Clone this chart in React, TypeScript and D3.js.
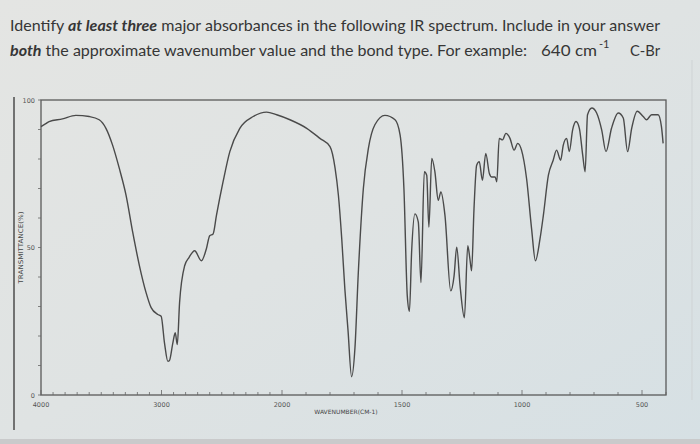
import React from "react";
import * as d3 from "d3";

const wavenumbers = [
  4000, 3960, 3933, 3822, 3711, 3600, 3517, 3461, 3406, 3350, 3294, 3239, 3183, 3128, 3086, 3031, 3003,
  2975, 2947, 2935, 2906, 2886, 2869, 2850, 2808, 2772, 2725, 2669, 2628, 2600, 2572, 2544, 2489, 2433,
  2350, 2239, 2128, 2044, 1967, 1897, 1842, 1800, 1779, 1765, 1751, 1738, 1725, 1710, 1696, 1682, 1661,
  1640, 1613, 1571, 1529, 1508, 1492, 1478, 1469, 1460, 1446, 1432, 1421, 1407, 1397, 1388, 1376, 1363,
  1349, 1338, 1321, 1297, 1283, 1272, 1258, 1240, 1226, 1217, 1210, 1200, 1189, 1178, 1165, 1151, 1136,
  1126, 1112, 1105, 1095, 1081, 1067, 1050, 1033, 1018, 1002, 981, 960, 944, 925, 911, 890, 870, 856,
  839, 828, 814, 803, 789, 775, 761, 747, 737, 727, 709, 689, 668, 650, 627, 599, 578, 560, 543, 520,
  495, 481, 460, 433, 419, 412,
];
const transmittance = [
  91.0, 92.0, 92.7, 93.6, 94.8, 94.4, 93.3, 90.4, 84.7, 76.8, 67.7, 55.2, 43.8, 34.7, 29.6, 27.3, 26.7,
  17.6, 11.4, 11.6, 17.6, 21.1, 17.1, 31.3, 43.8, 46.6, 48.9, 45.5, 49.5, 54.0, 54.6, 60.9, 72.3, 82.5,
  90.4, 94.4, 95.9, 95.0, 93.3, 90.4, 87.0, 84.2, 77.0, 67.7, 52.9, 35.8, 22.0, 6.2, 16.0, 41.5, 70.0,
  83.6, 91.6, 94.8, 93.3, 88.2, 70.0, 33.6, 28.4, 48.4, 61.4, 58.6, 38.1, 75.7, 74.5, 56.9, 80.2, 75.7,
  66.0, 68.8, 60.9, 35.3, 40.4, 50.1, 37.0, 26.2, 50.6, 46.1, 42.1, 63.1, 77.9, 79.1, 72.8, 81.9, 75.1,
  73.9, 73.9, 72.3, 87.0, 86.5, 88.7, 87.0, 83.0, 85.3, 83.0, 73.4, 56.3, 45.5, 52.9, 60.9, 74.5, 79.6, 83.0,
  79.6, 84.7, 87.0, 82.5, 89.9, 92.7, 90.4, 81.3, 75.7, 95.0, 97.3, 95.6, 89.9, 82.5, 90.4, 95.6, 93.9, 82.5, 90.4, 96.2,
  94.4, 93.3, 95.0, 95.0, 91.0, 85.3,
];
const xTickLabels = [4000, 3000, 2000, 1500, 1000, 500];
const yTickLabels = [0, 50, 100];
const xMinorTicks = d3.range(4000, 399, -100);
const yMinorTicks = d3.range(0, 101, 10);

const W = 700;
const H = 444;
const left = 41;
const right = 666;
const top = 100;
const bottom = 395;

export default function App() {
  const x = d3.scaleLinear().domain([4000, 2000, 400]).range([left, 282, right]);
  const y = d3.scaleLinear().domain([0, 100]).range([bottom, top]);
  const pts = wavenumbers.map((w, i) => [w, transmittance[i]] as [number, number]);
  const line = d3
    .line<[number, number]>()
    .x((d) => x(d[0]))
    .y((d) => y(d[1]))
    .curve(d3.curveMonotoneX);

  const small = { fontFamily: "DejaVu Sans, sans-serif", fontSize: 6.5, fill: "#555" } as const;
  const titleFont = { fontFamily: "Lato, 'Open Sans', sans-serif", fontSize: 15, fill: "#363636" } as const;

  return (
    <svg width={W} height={H} style={{ position: "absolute", left: 0, top: 0 }}>
      <defs>
        <linearGradient id="bg" x1="0" y1="0" x2="1" y2="1">
          <stop offset="0" stopColor="#e4e5e3" />
          <stop offset="0.5" stopColor="#dfe3e3" />
          <stop offset="1" stopColor="#d6e0e4" />
        </linearGradient>
      </defs>
      <rect x={0} y={0} width={W} height={H} fill="url(#bg)" />
      <rect x={0} y={439} width={W} height={5} fill="#c9cacb" />
      <line x1={14} x2={14} y1={97} y2={430} stroke="#555" strokeWidth={1.6} />
      <line x1={692} x2={692} y1={60} y2={400} stroke="#cfd3d5" strokeWidth={1} />

      <text {...titleFont} x={10} y={31} textLength={650} lengthAdjust="spacingAndGlyphs">
        Identify{" "}
        <tspan fontWeight="bold" fontStyle="italic">at least three</tspan> major absorbances in the following IR
        spectrum. Include in your answer
      </text>
      <text {...titleFont} x={10} y={56} textLength={517} lengthAdjust="spacingAndGlyphs">
        <tspan fontWeight="bold" fontStyle="italic">both</tspan> the approximate wavenumber value and the bond type.
        For example:
      </text>
      <text {...titleFont} x={541} y={56} textLength={56} lengthAdjust="spacingAndGlyphs">640 cm</text>
      <text {...titleFont} fontSize={11} x={599} y={48}>-1</text>
      <text {...titleFont} x={630} y={56} textLength={30} lengthAdjust="spacingAndGlyphs">C-Br</text>

      {/* frame */}
      <rect x={left} y={top} width={right - left} height={bottom - top} fill="none" stroke="#5a5a5a" strokeWidth={1.3} />

      {/* y ticks */}
      {yMinorTicks.map((t) => (
        <line key={"yt" + t} x1={left - 3} x2={left} y1={y(t)} y2={y(t)} stroke="#666" strokeWidth={0.8} />
      ))}
      {yTickLabels.map((t) => (
        <text key={"yl" + t} {...small} x={left - 6} y={y(t) + 2.5} textAnchor="end">
          {t}
        </text>
      ))}
      <text {...small} fontSize={6.5} fill="#444" transform={`translate(23,${y(50)}) rotate(-90)`} textAnchor="middle" textLength={72} lengthAdjust="spacingAndGlyphs">
        TRANSMITTANCE(%)
      </text>

      {/* x ticks */}
      {xMinorTicks.map((w) => (
        <line key={"xt" + w} x1={x(w)} x2={x(w)} y1={bottom} y2={bottom - (xTickLabels.includes(w) ? 5 : 3)} stroke="#666" strokeWidth={0.8} />
      ))}
      {xTickLabels.map((w) => (
        <text key={"xl" + w} {...small} x={x(w)} y={y(0) + 12} textAnchor="middle">
          {w}
        </text>
      ))}
      <text {...small} fontSize={6} fill="#444" x={346} y={414} textAnchor="middle">
        WAVENUMBER(CM-1)
      </text>

      <path d={line(pts) || ""} fill="none" stroke="#4a4a4a" strokeWidth={1.4} strokeLinejoin="round" />
    </svg>
  );
}
